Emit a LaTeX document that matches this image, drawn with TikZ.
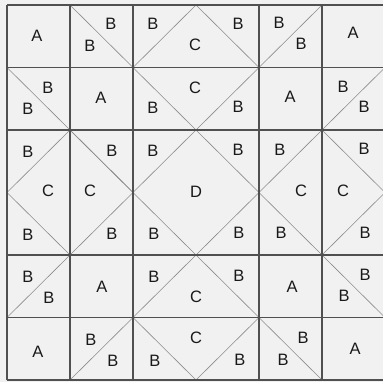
\documentclass[tikz,border=0pt]{standalone}
\usepackage{fontspec}
\setmainfont{Liberation Sans}
\definecolor{paper}{RGB}{241,241,241}
\definecolor{gridc}{RGB}{80,80,80}
\definecolor{diagc}{RGB}{140,140,140}
\definecolor{inkc}{RGB}{25,25,25}
\begin{document}
\begin{tikzpicture}[x=1pt,y=-1pt,
  gridline/.style={draw=gridc,line width=1.1pt},
  diagline/.style={draw=diagc,line width=0.6pt},
  lab/.style={inner sep=0pt,text=inkc,font=\fontsize{16.5}{18}\selectfont}]
\useasboundingbox (0,0) rectangle (383,382);
\clip (0,0) rectangle (383,382);
\fill[paper] (0,0) rectangle (383,382);
% column and row positions
\def\Xa{7}\def\Xb{70}\def\Xc{133}\def\Xd{196}\def\Xe{259}\def\Xf{322}\def\Xg{385}
\def\Ya{5}\def\Yb{67.5}\def\Yc{130}\def\Yd{192.5}\def\Ye{255}\def\Yf{317.5}\def\Yg{380}
% diagonals
\draw[diagline] (\Xb,\Ya) -- (\Xc,\Yb) -- (\Xd,\Ya) -- (\Xe,\Yb) -- (\Xf,\Ya);
\draw[diagline] (\Xa,\Yb) -- (\Xb,\Yc) -- (\Xc,\Yd) -- (\Xd,\Ye) -- (\Xe,\Yf) -- (\Xf,\Yg);
\draw[diagline] (\Xc,\Yb) -- (\Xd,\Yc) -- (\Xe,\Yb);
\draw[diagline] (\Xf,\Yc) -- (\Xg,\Yb);
\draw[diagline] (\Xa,\Yd) -- (\Xb,\Yc) -- (\Xc,\Yd) -- (\Xd,\Yc) -- (\Xe,\Yd) -- (\Xf,\Yc) -- (\Xg,\Yd);
\draw[diagline] (\Xa,\Yd) -- (\Xb,\Ye) -- (\Xc,\Yd);
\draw[diagline] (\Xd,\Ye) -- (\Xe,\Yd) -- (\Xf,\Ye) -- (\Xg,\Yd);
\draw[diagline] (\Xa,\Yf) -- (\Xb,\Ye);
\draw[diagline] (\Xc,\Yf) -- (\Xd,\Ye);
\draw[diagline] (\Xf,\Ye) -- (\Xg,\Yf);
\draw[diagline] (\Xb,\Yg) -- (\Xc,\Yf) -- (\Xd,\Yg) -- (\Xe,\Yf);
% grid lines
\foreach \y in {\Ya,\Yb,\Yc,\Ye,\Yf,\Yg} \draw[gridline] (\Xa,\y) -- (\Xg,\y);
\foreach \x in {\Xa,\Xb,\Xc,\Xe,\Xf,\Xg} \draw[gridline] (\x,\Ya) -- (\x,\Yg);
% labels row 0
\node[lab] (a00) at (37,36) {A};
\node[lab] (b10a) at (111,24) {B};
\node[lab] (b10b) at (90,46) {B};
\node[lab] (b20) at (153,24) {B};
\node[lab] (c0) at (195,45) {C};
\node[lab] (b30) at (238,24) {B};
\node[lab] (b40a) at (279,23) {B};
\node[lab] (b40b) at (301,44) {B};
\node[lab] (a50) at (353,33) {A};
% row 1
\node[lab] (b01a) at (48,88) {B};
\node[lab] (b01b) at (28,109) {B};
\node[lab] (a11) at (101,98) {A};
\node[lab] (b21) at (153,108) {B};
\node[lab] (c1) at (195,88) {C};
\node[lab] (b31) at (238,107) {B};
\node[lab] (a41) at (290,97) {A};
\node[lab] (b51a) at (343,87) {B};
\node[lab] (b51b) at (364,107) {B};
% rows 2-3
\node[lab] (b02) at (28,152) {B};
\node[lab] (b12) at (112,151) {B};
\node[lab] (b22) at (153,151) {B};
\node[lab] (b32) at (238,150) {B};
\node[lab] (b42) at (280,150) {B};
\node[lab] (b52) at (364,149) {B};
\node[lab] (cl1) at (48,191) {C};
\node[lab] (cl2) at (90,191) {C};
\node[lab] (d) at (196,192) {D};
\node[lab] (cr1) at (301,191) {C};
\node[lab] (cr2) at (343,191) {C};
\node[lab] (b03) at (28,235) {B};
\node[lab] (b13) at (112,234) {B};
\node[lab] (b23) at (154,234) {B};
\node[lab] (b33) at (239,233) {B};
\node[lab] (b43) at (281,233) {B};
\node[lab] (b53) at (365,233) {B};
% row 4
\node[lab] (b04a) at (28,277) {B};
\node[lab] (b04b) at (49,298) {B};
\node[lab] (a14) at (102,287) {A};
\node[lab] (b24) at (154,277) {B};
\node[lab] (c4) at (196,297) {C};
\node[lab] (b34) at (239,276) {B};
\node[lab] (a44) at (292,287) {A};
\node[lab] (b54a) at (365,275) {B};
\node[lab] (b54b) at (344,296) {B};
% row 5
\node[lab] (a05) at (38,352) {A};
\node[lab] (b15a) at (91,340) {B};
\node[lab] (b15b) at (113,361) {B};
\node[lab] (b25) at (155,361) {B};
\node[lab] (c5) at (196,338) {C};
\node[lab] (b35) at (240,360) {B};
\node[lab] (b45a) at (303,338) {B};
\node[lab] (b45b) at (283,360) {B};
\node[lab] (a55) at (355,349) {A};
\end{tikzpicture}
\end{document}
